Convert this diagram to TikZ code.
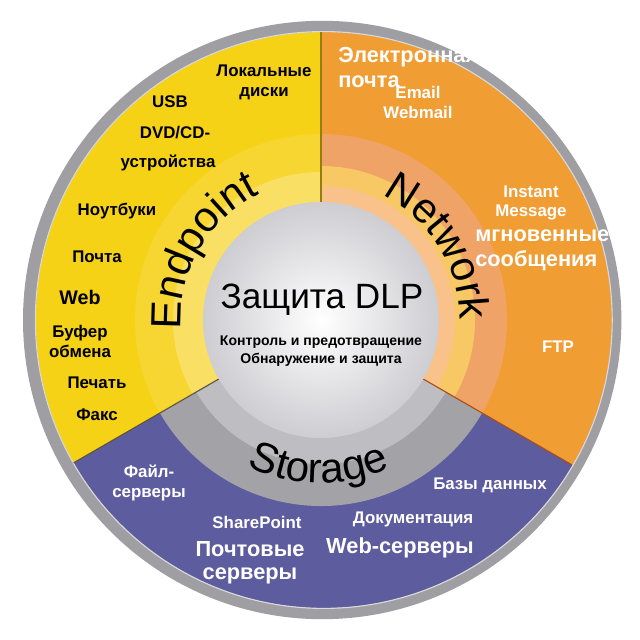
\documentclass[tikz,border=0pt]{standalone}
\usepackage{fontspec}
\setmainfont{Liberation Sans}
\usetikzlibrary{decorations.text}

\definecolor{ringgray}{RGB}{158,158,163}
\definecolor{endout}{RGB}{246,210,22}
\definecolor{endband}{RGB}{247,214,50}
\definecolor{endinner}{RGB}{249,223,100}
\definecolor{netout}{RGB}{240,157,52}
\definecolor{netband}{RGB}{240,163,102}
\definecolor{netinner}{RGB}{247,200,100}
\definecolor{netedge}{RGB}{248,194,138}
\definecolor{stoout}{RGB}{93,92,158}
\definecolor{stoband}{RGB}{163,163,167}
\definecolor{stoinner}{RGB}{190,190,194}
\definecolor{centergray}{RGB}{205,205,210}

\newcommand{\ringlabel}{\fontsize{30}{30}\selectfont}

\begin{document}
\begin{tikzpicture}
  \tikzstyle{blk} = [inner sep=0pt, align=center, font=\bfseries\fontsize{12}{14.2}\selectfont]
  \tikzstyle{wht} = [blk, text=white]
  \tikzstyle{bigwht} = [wht, font=\bfseries\fontsize{15.5}{17.6}\selectfont]
  \tikzstyle{centre} = [inner sep=0pt, align=center, font=\bfseries\fontsize{10}{12.8}\selectfont]

  \useasboundingbox (-8.025,-8) rectangle (7.975,8);

  % outer ring
  \fill[ringgray] (0.03,0) circle (7.48);

  % outer sectors
  \begin{scope}
    \clip (0.07,0) circle (7.2);
    \fill[endout] (0,0) -- (90:7.6) arc[start angle=90, end angle=210, radius=7.6] -- cycle;
    \fill[netout] (0,0) -- (-30:7.6) arc[start angle=-30, end angle=90, radius=7.6] -- cycle;
    \fill[stoout] (0,0) -- (210:7.6) arc[start angle=210, end angle=330, radius=7.6] -- cycle;
  \end{scope}
  \draw[line width=0.8pt, white!70!gray] (0.07,0) circle (7.21);

  % label band
  \fill[endband] (0,0) -- (90:4.65) arc[start angle=90, end angle=210, radius=4.65] -- cycle;
  \fill[endinner] (0,0) -- (90:3.7) arc[start angle=90, end angle=210, radius=3.7] -- cycle;
  \fill[netband] (0,0) -- (-30:4.65) arc[start angle=-30, end angle=90, radius=4.65] -- cycle;
  \fill[netinner] (0,0) -- (-30:3.85) arc[start angle=-30, end angle=90, radius=3.85] -- cycle;
  \fill[netedge] (0,0) -- (-30:3.35) arc[start angle=-30, end angle=90, radius=3.35] -- cycle;
  \fill[stoband] (0,0) -- (210:4.65) arc[start angle=210, end angle=330, radius=4.65] -- cycle;
  \fill[stoinner] (0,0) -- (210:3.6) arc[start angle=210, end angle=330, radius=3.6] -- cycle;

  % dividers
  \draw[line width=0.8pt, endout!60!black] (90:2.95) -- (90:7.2);
  \draw[line width=0.8pt, netout!70!red!70!black] (-30:2.95) -- (-30:7.24);
  \draw[line width=0.8pt, stoout!60!endout!60!black] (210:2.95) -- (210:7.14);

  % centre
  \shade[inner color=white, outer color=centergray] (0,0) circle (2.95);

  % ring labels
  \path[decorate, decoration={text along path, text={|\ringlabel|Endpoint}, text align=center}]
    (200:3.5) arc[start angle=200, end angle=100, radius=3.5];
  \path[decorate, decoration={text along path, text={|\ringlabel|Network}, text align=center}]
    (82:3.47) arc[start angle=82, end angle=-18, radius=3.47];
  \path[decorate, decoration={text along path, text={|\ringlabel|Storage}, text align=center}]
    (219:4.08) arc[start angle=219, end angle=319, radius=4.08];

  % centre text
  \node[inner sep=0pt, font=\fontsize{25}{25}\selectfont] (dlp) at (0.025,0.5) {Защита DLP};
  \node[centre] (control) at (0,-0.55) {Контроль и предотвращение};
  \node[centre] (detect) at (0,-1.0) {Обнаружение и защита};

  % endpoint
  \node[blk] (disks) at (-1.425,5.95) {Локальные\\диски};
  \node[blk] (usb) at (-3.775,5.45) {USB};
  \node[blk] (dvd) at (-3.65,4.675) {DVD/CD-};
  \node[blk] (devices) at (-3.825,3.925) {устройства};
  \node[blk] (laptops) at (-5.1,2.725) {Ноутбуки};
  \node[blk] (mail) at (-5.6,1.575) {Почта};
  \node[blk, font=\bfseries\fontsize{14}{16}\selectfont] (web) at (-6.025,0.575) {Web};
  \node[blk] (clip) at (-6.025,-0.525) {Буфер\\обмена};
  \node[blk] (print) at (-5.6,-1.575) {Печать};
  \node[blk] (fax) at (-5.6,-2.375) {Факс};

  % network
  \begin{scope}
    \clip (0,0) circle (7.6);
    \node[bigwht, anchor=west, align=left] (email) at (0.425,6.31) {Электронная\\почта};
  \end{scope}
  \node[wht] (webmail) at (2.425,5.45) {Email\\Webmail};
  \node[wht] (im) at (5.25,2.925) {Instant\\Message};
  \node[bigwht, anchor=west, align=left] (instant) at (3.85,1.75) {мгновенные\\сообщения};
  \node[wht] (ftp) at (5.925,-0.675) {FTP};

  % storage
  \node[wht] (files) at (-4.3,-4.075) {Файл-\\серверы};
  \node[wht] (share) at (-1.6,-5.05) {SharePoint};
  \node[bigwht, font=\bfseries\fontsize{15.5}{16.4}\selectfont] (mailsrv) at (-1.775,-6.075) {Почтовые\\серверы};
  \node[wht] (db) at (4.225,-4.125) {Базы данных};
  \node[wht] (docs) at (2.3,-4.975) {Документация};
  \node[bigwht] (websrv) at (1.975,-5.7) {Web-серверы};
\end{tikzpicture}
\end{document}
